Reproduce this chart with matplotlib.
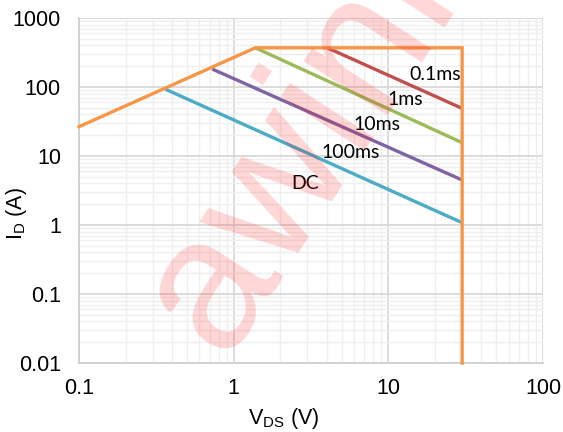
import numpy as np
import matplotlib
matplotlib.use("Agg")
import matplotlib.pyplot as plt
from matplotlib.ticker import LogLocator, FixedLocator, FixedFormatter, NullFormatter

# SOA curves (V, A)
limit_v = [0.1, 1.38, 30, 30]
limit_i = [26.6, 370, 370, 0.01]
pulse_names = ["0.1ms", "1ms", "10ms", "100ms", "DC"]
line_v = [[4.03, 30], [1.38, 30], [0.727, 30], [0.363, 30]]
line_i = [[370, 49], [370, 15.6], [182, 4.49], [92.7, 1.08]]
line_colors = ["#C0504D", "#9BBB59", "#8064A2", "#4BACC6"]
label_xy = [(20, 154), (12.9, 67), (8.5, 29), (5.7, 11.4), (2.9, 4.06)]

xticks = [0.1, 1, 10, 100]
xtick_labels = ["0.1", "1", "10", "100"]
yticks = [0.01, 0.1, 1, 10, 100, 1000]
ytick_labels = ["0.01", "0.1", "1", "10", "100", "1000"]

fig = plt.figure(figsize=(5.63, 4.32), dpi=100)
ax = fig.add_axes([0.1403, 0.1597, 0.8242, 0.7986])
ax.set_xscale("log")
ax.set_yscale("log")
ax.set_xlim(0.1, 100)
ax.set_ylim(0.01, 1000)

for v, i, c in zip(line_v, line_i, line_colors):
    ax.plot(v, i, color=c, lw=2.4, solid_capstyle="butt", zorder=3)
ax.plot(limit_v, limit_i, color="#F79646", lw=2.4, solid_joinstyle="miter", zorder=4, clip_on=False)

for name, (x, y) in zip(pulse_names, label_xy):
    ax.text(x, y, name, ha="center", va="center", fontsize=14, family="Lato", zorder=5)

ax.xaxis.set_major_locator(FixedLocator(xticks))
ax.xaxis.set_major_formatter(FixedFormatter(xtick_labels))
ax.yaxis.set_major_locator(FixedLocator(yticks))
ax.yaxis.set_major_formatter(FixedFormatter(ytick_labels))
ax.xaxis.set_minor_locator(LogLocator(base=10, subs=np.arange(2, 10), numticks=20))
ax.yaxis.set_minor_locator(LogLocator(base=10, subs=np.arange(2, 10), numticks=20))
ax.xaxis.set_minor_formatter(NullFormatter())
ax.yaxis.set_minor_formatter(NullFormatter())

ax.grid(which="major", color="#D9D9D9", lw=1.3, zorder=0)
ax.grid(which="minor", color="#EFEFEF", lw=1.0, zorder=0)
ax.set_axisbelow(True)
ax.tick_params(which="both", length=0, labelsize=15.5)
ax.tick_params(axis="y", pad=13)
ax.tick_params(axis="x", pad=11)
for lbl in ax.get_xticklabels() + ax.get_yticklabels():
    lbl.set_family("Liberation Sans")

for s in ["top", "right"]:
    ax.spines[s].set_visible(False)
for s in ["left", "bottom"]:
    ax.spines[s].set_color("#D0D0D0")
    ax.spines[s].set_linewidth(1.3)

ax.set_xlabel("V$_{\\mathregular{DS}}$ (V)", fontsize=15.5, family="Liberation Sans")
ax.set_ylabel("I$_{\\mathregular{D}}$ (A)", fontsize=15.5, family="Liberation Sans")
ax.xaxis.set_label_coords(0.44, -0.125)
ax.yaxis.set_label_coords(-0.108, 0.432)

# watermark
fig.text(0.548, 0.77, "awinic", rotation=57, rotation_mode="anchor", fontsize=136,
         color="#FF0000", alpha=0.16, ha="center", va="center_baseline",
         family="Liberation Sans", zorder=10)

fig.savefig("out.png", dpi=100)
